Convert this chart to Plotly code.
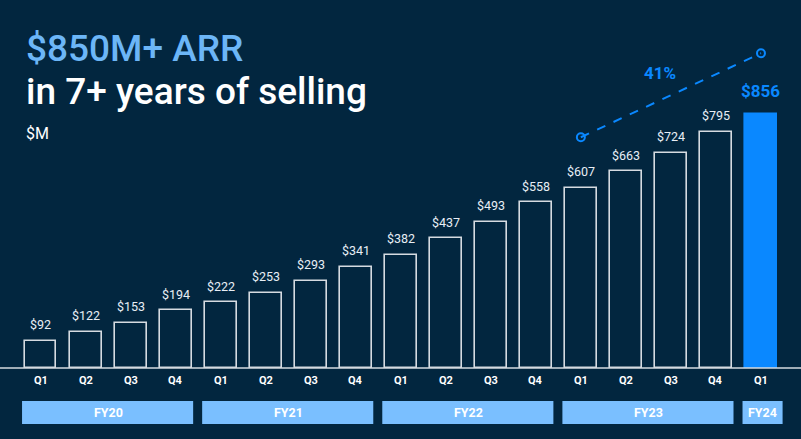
import plotly.graph_objects as go

quarters = ["Q1", "Q2", "Q3", "Q4", "Q1", "Q2", "Q3", "Q4", "Q1", "Q2", "Q3", "Q4",
            "Q1", "Q2", "Q3", "Q4", "Q1"]
arr_values = [92, 122, 153, 194, 222, 253, 293, 341, 382, 437, 493, 558,
              607, 663, 724, 795, 856]
fiscal_years = ["FY20", "FY21", "FY22", "FY23", "FY24"]
fy_start_idx = [0, 4, 8, 12, 16]
fy_end_idx = [3, 7, 11, 15, 16]
growth_label = "41%"
trend_idx = [12, 16]
trend_y = [777, 1060]

BG = "#02263f"
OUTLINE = "#d6dbe1"
BLUE = "#0a88ff"
LIGHT = "#7abfff"
FONT = "Roboto"

W, H = 801, 439
base_px = 368
k = 0.297  # px per $M
x0_px, pitch = 40.5, 45.03
xr = [-x0_px / pitch, (W - x0_px) / pitch - 0]
yr = [-(H - base_px) / k, base_px / k]

n = len(arr_values)
x = list(range(n))
fills = [BG] * (n - 1) + [BLUE]
lines = [OUTLINE] * (n - 1) + [BLUE]

fig = go.Figure()
fig.add_trace(go.Bar(
    x=x, y=arr_values, width=0.71,
    marker=dict(color=fills, line=dict(color=lines, width=1.6)),
    hoverinfo="skip",
))
fig.add_trace(go.Scatter(
    x=trend_idx, y=trend_y, mode="lines+markers",
    line=dict(color=BLUE, width=2, dash="dash"),
    marker=dict(symbol="circle-open", size=8, color=BLUE, line=dict(width=2)),
    hoverinfo="skip",
))

annotations = []
for i, v in enumerate(arr_values):
    last = i == n - 1
    annotations.append(dict(
        x=i, y=v, xref="x", yref="y", text=f"${v}", showarrow=False,
        yshift=23 if last else 16,
        font=dict(family=FONT, size=17 if last else 12.5,
                  color=BLUE if last else "#e8eef5",
                  weight="bold" if last else "normal"),
    ))
    annotations.append(dict(
        x=i, y=0, xref="x", yref="y", text=quarters[i], showarrow=False,
        yshift=-12, font=dict(family=FONT, size=11, color="white", weight="bold"),
    ))

shapes = [dict(type="line", xref="paper", yref="y", x0=0, x1=1, y0=0, y1=0,
               line=dict(color=OUTLINE, width=1.5), layer="above")]
band_y0, band_y1 = -(401 - base_px) / k, -(424 - base_px) / k
for fy, s, e in zip(fiscal_years, fy_start_idx, fy_end_idx):
    shapes.append(dict(type="rect", xref="x", yref="y", x0=s - 0.41, x1=e + 0.48 if s == e else e + 0.39,
                       y0=band_y1, y1=band_y0, fillcolor=LIGHT, line=dict(width=0), layer="below"))
    annotations.append(dict(x=(s + e) / 2 + (0.035 if s == e else 0), y=(band_y0 + band_y1) / 2,
                            xref="x", yref="y", text=fy, showarrow=False,
                            font=dict(family=FONT, size=12.5, color="white", weight="bold")))

annotations.append(dict(x=13.76, y=993, xref="x", yref="y", text=growth_label, showarrow=False,
                        font=dict(family=FONT, size=17, color=BLUE, weight="bold")))

annotations += [
    dict(x=24 / W, y=1 - 48 / H, xref="paper", yref="paper", xanchor="left", yanchor="middle",
         text="$850M+ ARR", showarrow=False,
         font=dict(family=FONT, size=37, color="#6cb6f7", weight=500)),
    dict(x=24 / W, y=1 - 91 / H, xref="paper", yref="paper", xanchor="left", yanchor="middle",
         text="in 7+ years of selling", showarrow=False,
         font=dict(family=FONT, size=37, color="white", weight=500)),
    dict(x=24 / W, y=1 - 134 / H, xref="paper", yref="paper", xanchor="left", yanchor="middle",
         text="$M", showarrow=False,
         font=dict(family=FONT, size=16, color="white")),
]

fig.update_layout(
    width=W, height=H, margin=dict(l=0, r=0, t=0, b=0),
    paper_bgcolor=BG, plot_bgcolor=BG, showlegend=False,
    xaxis=dict(range=xr, visible=False, fixedrange=True),
    yaxis=dict(range=yr, visible=False, fixedrange=True),
    shapes=shapes, annotations=annotations, bargap=0,
)
fig.write_html("out.html", config={"displayModeBar": False},
               post_script="document.body.style.margin='0';document.body.style.overflow='hidden';document.body.style.background='" + BG + "';")
